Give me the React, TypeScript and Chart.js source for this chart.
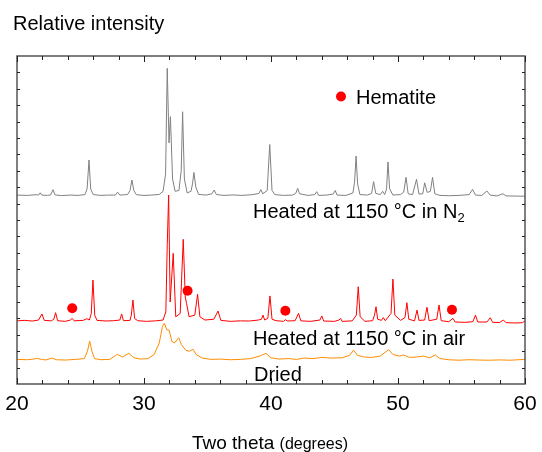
import React, { useEffect, useRef } from "react";
import { Chart, registerables } from "chart.js";

Chart.register(...registerables);

const FONT = '"Liberation Sans", Arial, Helvetica, sans-serif';

// ---- axes ----
const xTickLabels = [20, 30, 40, 50, 60];
const xMinorStep = 2;
const yMin = 0;
const yMax = 20;
const yTickStep = 1;

// ---- texts ----
const yTitle = "Relative intensity";
const xTitleMain = "Two theta";
const xTitleUnit = "(degrees)";
const legendText = "Hematite";
const labelN2 = "Heated at 1150 °C in N";
const labelN2Sub = "2";
const labelAir = "Heated at 1150 °C in air";
const labelDried = "Dried";

// ---- series: [2θ, intensity] ----
const heatedN2: [number, number][] = [
  [20.0, 11.52], [20.8, 11.5], [21.5, 11.54], [21.7, 11.52], [21.83, 11.66], [21.95, 11.52],
  [22.4, 11.5], [22.65, 11.53], [22.83, 11.85], [23.0, 11.53], [23.5, 11.49], [24.2, 11.52],
  [24.8, 11.5], [25.35, 11.55], [25.52, 11.9], [25.67, 13.66], [25.8, 11.9], [26.0, 11.55],
  [26.6, 11.5], [27.2, 11.52], [27.75, 11.52], [27.92, 11.7], [28.1, 11.52], [28.7, 11.55],
  [28.9, 11.8], [29.05, 12.44], [29.2, 11.8], [29.4, 11.54], [30.0, 11.5], [30.6, 11.52],
  [31.2, 11.56], [31.5, 11.75], [31.7, 12.8], [31.83, 19.25], [31.97, 14.7], [32.08, 16.3],
  [32.25, 12.5], [32.45, 11.75], [32.75, 11.8], [32.93, 13.0], [33.04, 16.6], [33.18, 12.5],
  [33.4, 11.65], [33.7, 11.75], [33.82, 12.2], [33.93, 12.9], [34.08, 12.0], [34.3, 11.56],
  [34.9, 11.52], [35.35, 11.6], [35.53, 11.83], [35.7, 11.55], [36.3, 11.5], [37.0, 11.53],
  [37.7, 11.5], [38.5, 11.54], [39.05, 11.62], [39.2, 11.85], [39.35, 11.6], [39.7, 11.8],
  [39.9, 14.6], [40.08, 11.8], [40.3, 11.55], [41.0, 11.5], [41.7, 11.52], [41.95, 11.62],
  [42.1, 11.93], [42.25, 11.6], [42.9, 11.5], [43.45, 11.55], [43.6, 11.73], [43.75, 11.5],
  [44.4, 11.52], [44.9, 11.58], [45.06, 11.8], [45.2, 11.52], [45.9, 11.5], [46.45, 11.65],
  [46.58, 12.3], [46.7, 13.9], [46.82, 12.2], [47.0, 11.55], [47.6, 11.52], [47.92, 11.62],
  [48.08, 12.34], [48.25, 11.62], [48.6, 11.55], [48.79, 11.75], [48.95, 11.55], [49.1, 11.9],
  [49.21, 13.54], [49.34, 11.9], [49.6, 11.52], [50.2, 11.55], [50.45, 11.7], [50.63, 12.6],
  [50.8, 11.6], [51.15, 11.55], [51.46, 12.48], [51.65, 11.58], [51.95, 11.6], [52.1, 12.27],
  [52.3, 11.68], [52.55, 11.75], [52.72, 12.6], [52.9, 11.6], [53.3, 11.5], [54.0, 11.48],
  [54.8, 11.5], [55.6, 11.55], [55.87, 11.87], [56.1, 11.52], [56.6, 11.5], [57.0, 11.77],
  [57.25, 11.52], [57.8, 11.47], [58.26, 11.6], [58.5, 11.47], [59.2, 11.46], [60.0, 11.45],
];

const heatedAir: [number, number][] = [
  [20.0, 3.85], [20.6, 3.88], [21.2, 3.84], [21.7, 3.9], [21.96, 4.27], [22.15, 3.88],
  [22.7, 3.85], [22.9, 3.95], [23.04, 4.35], [23.2, 3.86], [23.8, 3.82], [24.2, 3.9],
  [24.35, 4.0], [24.5, 3.85], [25.2, 3.88], [25.5, 3.98], [25.7, 3.9], [25.85, 4.3],
  [25.98, 6.34], [26.12, 4.2], [26.3, 3.88], [27.0, 3.84], [27.6, 3.86], [28.1, 3.9],
  [28.24, 4.27], [28.38, 3.86], [28.9, 3.88], [29.0, 4.2], [29.13, 5.12], [29.26, 4.0],
  [29.5, 3.86], [30.2, 3.82], [30.9, 3.85], [31.5, 3.9], [31.72, 4.4], [31.83, 8.5],
  [31.94, 11.52], [32.06, 5.0], [32.3, 7.97], [32.5, 4.1], [32.85, 4.3], [33.09, 8.82],
  [33.25, 5.3], [33.35, 4.92], [33.55, 4.1], [34.0, 4.2], [34.22, 5.47], [34.4, 4.1],
  [34.8, 3.9], [35.5, 3.95], [35.83, 4.45], [36.05, 3.88], [36.8, 3.82], [37.6, 3.85],
  [38.3, 3.84], [39.0, 3.9], [39.25, 3.95], [39.37, 4.2], [39.5, 3.9], [39.75, 4.0],
  [39.92, 5.37], [40.08, 3.95], [40.4, 3.86], [41.0, 3.82], [41.13, 3.92], [41.3, 3.84],
  [41.9, 3.86], [42.17, 4.31], [42.35, 3.85], [43.1, 3.82], [43.85, 3.9], [44.0, 4.15],
  [44.15, 3.84], [45.0, 3.82], [45.35, 3.9], [45.48, 4.0], [45.6, 3.82], [46.4, 3.85],
  [46.72, 4.2], [46.87, 5.93], [47.02, 4.1], [47.4, 3.82], [48.0, 3.86], [48.15, 4.2],
  [48.27, 4.71], [48.4, 3.95], [48.7, 3.88], [48.84, 4.05], [49.0, 3.86], [49.45, 4.3],
  [49.6, 6.4], [49.75, 4.2], [50.2, 3.88], [50.55, 4.05], [50.7, 4.96], [50.85, 3.95],
  [51.3, 3.85], [51.5, 4.51], [51.65, 3.88], [52.1, 3.9], [52.28, 4.68], [52.45, 3.86],
  [53.05, 3.95], [53.23, 4.82], [53.4, 3.86], [54.0, 3.8], [54.33, 4.0], [54.5, 3.78],
  [55.3, 3.76], [55.9, 3.8], [56.1, 4.2], [56.28, 3.78], [57.0, 3.78], [57.27, 4.04],
  [57.45, 3.76], [58.0, 3.75], [58.3, 3.9], [58.5, 3.74], [59.3, 3.72], [59.8, 3.74],
  [60.0, 3.85],
];

const dried: [number, number][] = [
  [20.0, 1.5], [20.8, 1.48], [21.3, 1.52], [21.6, 1.56], [22.0, 1.49], [22.3, 1.47],
  [22.75, 1.58], [23.1, 1.48], [23.8, 1.46], [24.6, 1.5], [25.3, 1.55], [25.55, 2.0],
  [25.72, 2.62], [25.9, 2.0], [26.1, 1.55], [26.6, 1.48], [27.3, 1.5], [27.9, 1.81],
  [28.3, 1.65], [28.8, 1.87], [29.2, 1.6], [29.7, 1.52], [30.3, 1.55], [30.8, 1.8],
  [31.2, 2.5], [31.45, 3.5], [31.6, 3.7], [31.8, 3.3], [31.97, 3.29], [32.2, 2.6],
  [32.4, 2.5], [32.73, 2.82], [32.95, 2.4], [33.3, 2.05], [33.6, 2.0], [33.86, 2.12],
  [34.1, 1.8], [34.6, 1.58], [35.3, 1.5], [36.0, 1.52], [36.8, 1.48], [37.6, 1.5],
  [38.4, 1.55], [39.1, 1.7], [39.6, 1.87], [40.0, 1.6], [40.6, 1.52], [41.4, 1.55],
  [42.0, 1.5], [42.6, 1.58], [43.3, 1.55], [44.0, 1.62], [44.8, 1.58], [45.6, 1.6],
  [46.2, 1.75], [46.5, 2.07], [46.8, 1.75], [47.3, 1.65], [47.9, 1.62], [48.6, 1.7],
  [49.26, 2.1], [49.6, 1.8], [50.1, 1.7], [50.44, 1.77], [50.9, 1.62], [51.5, 1.65],
  [52.0, 1.7], [52.5, 1.6], [52.94, 1.77], [53.3, 1.55], [54.0, 1.48], [54.8, 1.45],
  [55.6, 1.48], [56.4, 1.46], [57.2, 1.45], [58.0, 1.47], [58.8, 1.45], [59.5, 1.48],
  [60.0, 1.5],
];

const hematiteTwoTheta = [24.35, 33.43, 41.13, 54.25];
const hematiteIntensity = [4.62, 5.69, 4.47, 4.53];

const toXY = (arr: [number, number][]) => arr.map(([x, y]) => ({ x, y }));

const decorPlugin = {
  id: "decor",
  afterDatasetsDraw(chart: any) {
    const { ctx, chartArea: a, scales } = chart;
    const xs = scales.x;
    const ys = scales.y;
    ctx.save();
    const line = (x1: number, y1: number, x2: number, y2: number) => {
      ctx.beginPath();
      ctx.moveTo(x1, y1);
      ctx.lineTo(x2, y2);
      ctx.stroke();
    };
    // frame
    ctx.strokeStyle = "#555555";
    ctx.lineWidth = 1.5;
    ctx.strokeRect(a.left, a.top, a.right - a.left, a.bottom - a.top);
    // ticks
    ctx.strokeStyle = "#222222";
    ctx.lineWidth = 1;
    const x0 = xTickLabels[0];
    const x1 = xTickLabels[xTickLabels.length - 1];
    for (let v = x0; v <= x1; v += xMinorStep) {
      const px = Math.round(xs.getPixelForValue(v)) + 0.5;
      const len = xTickLabels.includes(v) ? 6 : 4;
      line(px, a.bottom, px, a.bottom - len);
      line(px, a.top, px, a.top + len);
    }
    for (let v = yMin + yTickStep; v < yMax; v += yTickStep) {
      const py = Math.round(ys.getPixelForValue(v)) + 0.5;
      line(a.left, py, a.left + 3, py);
      line(a.right, py, a.right - 3, py);
    }
    // x tick labels
    ctx.fillStyle = "#000000";
    ctx.font = `21px ${FONT}`;
    ctx.textAlign = "center";
    ctx.textBaseline = "alphabetic";
    for (const v of xTickLabels) {
      ctx.fillText(String(v), xs.getPixelForValue(v), a.bottom + 26);
    }
    ctx.restore();
  },
  afterDraw(chart: any) {
    const { ctx } = chart;
    ctx.save();
    ctx.fillStyle = "#000000";
    ctx.textAlign = "left";
    ctx.textBaseline = "alphabetic";
    ctx.font = `20px ${FONT}`;
    ctx.fillText(yTitle, 13, 30);

    // legend
    ctx.fillStyle = "#ff0000";
    ctx.beginPath();
    ctx.arc(341, 96.5, 5, 0, Math.PI * 2);
    ctx.fill();
    ctx.fillStyle = "#000000";
    ctx.fillText(legendText, 356, 103.5);

    // series labels
    ctx.fillText(labelN2, 253, 218);
    const w = ctx.measureText(labelN2).width;
    ctx.font = `13px ${FONT}`;
    ctx.fillText(labelN2Sub, 253 + w, 222);
    ctx.font = `20px ${FONT}`;
    ctx.fillText(labelAir, 253, 345);
    ctx.fillText(labelDried, 254, 381);

    // x title
    ctx.font = `19px ${FONT}`;
    const w1 = ctx.measureText(xTitleMain + " ").width;
    ctx.font = `16px ${FONT}`;
    const w2 = ctx.measureText(xTitleUnit).width;
    const start = 270 - (w1 + w2) / 2;
    ctx.font = `19px ${FONT}`;
    ctx.fillText(xTitleMain, start, 449);
    ctx.font = `16px ${FONT}`;
    ctx.fillText(xTitleUnit, start + w1, 449);
    ctx.restore();
  },
};

export default function App() {
  const ref = useRef<HTMLCanvasElement | null>(null);
  useEffect(() => {
    if (!ref.current) return;
    const chart = new Chart(ref.current, {
      type: "line",
      data: {
        datasets: [
          {
            label: "N2",
            data: toXY(heatedN2),
            borderColor: "#808080",
            borderWidth: 1,
            pointRadius: 0,
            tension: 0,
          },
          {
            label: "air",
            data: toXY(heatedAir),
            borderColor: "#ff0000",
            borderWidth: 1,
            pointRadius: 0,
            tension: 0,
          },
          {
            label: "dried",
            data: toXY(dried),
            borderColor: "#ff8c00",
            borderWidth: 1,
            pointRadius: 0,
            tension: 0,
          },
          {
            label: "Hematite",
            data: hematiteTwoTheta.map((x, i) => ({ x, y: hematiteIntensity[i] })),
            showLine: false,
            pointRadius: 5,
            pointBackgroundColor: "#ff0000",
            pointBorderWidth: 0,
            borderColor: "#ff0000",
          },
        ],
      },
      options: {
        responsive: false,
        animation: false,
        devicePixelRatio: 1,
        layout: { padding: { left: 17, right: 17, top: 56, bottom: 68 } },
        plugins: { legend: { display: false }, tooltip: { enabled: false } },
        scales: {
          x: {
            type: "linear",
            min: xTickLabels[0],
            max: xTickLabels[xTickLabels.length - 1],
            display: false,
          },
          y: {
            type: "linear",
            min: yMin,
            max: yMax,
            display: false,
          },
        },
      },
      plugins: [decorPlugin],
    });
    return () => chart.destroy();
  }, []);
  return (
    <div style={{ position: "absolute", left: 0, top: 0, width: 542, height: 452 }}>
      <canvas ref={ref} width={542} height={452} />
    </div>
  );
}
